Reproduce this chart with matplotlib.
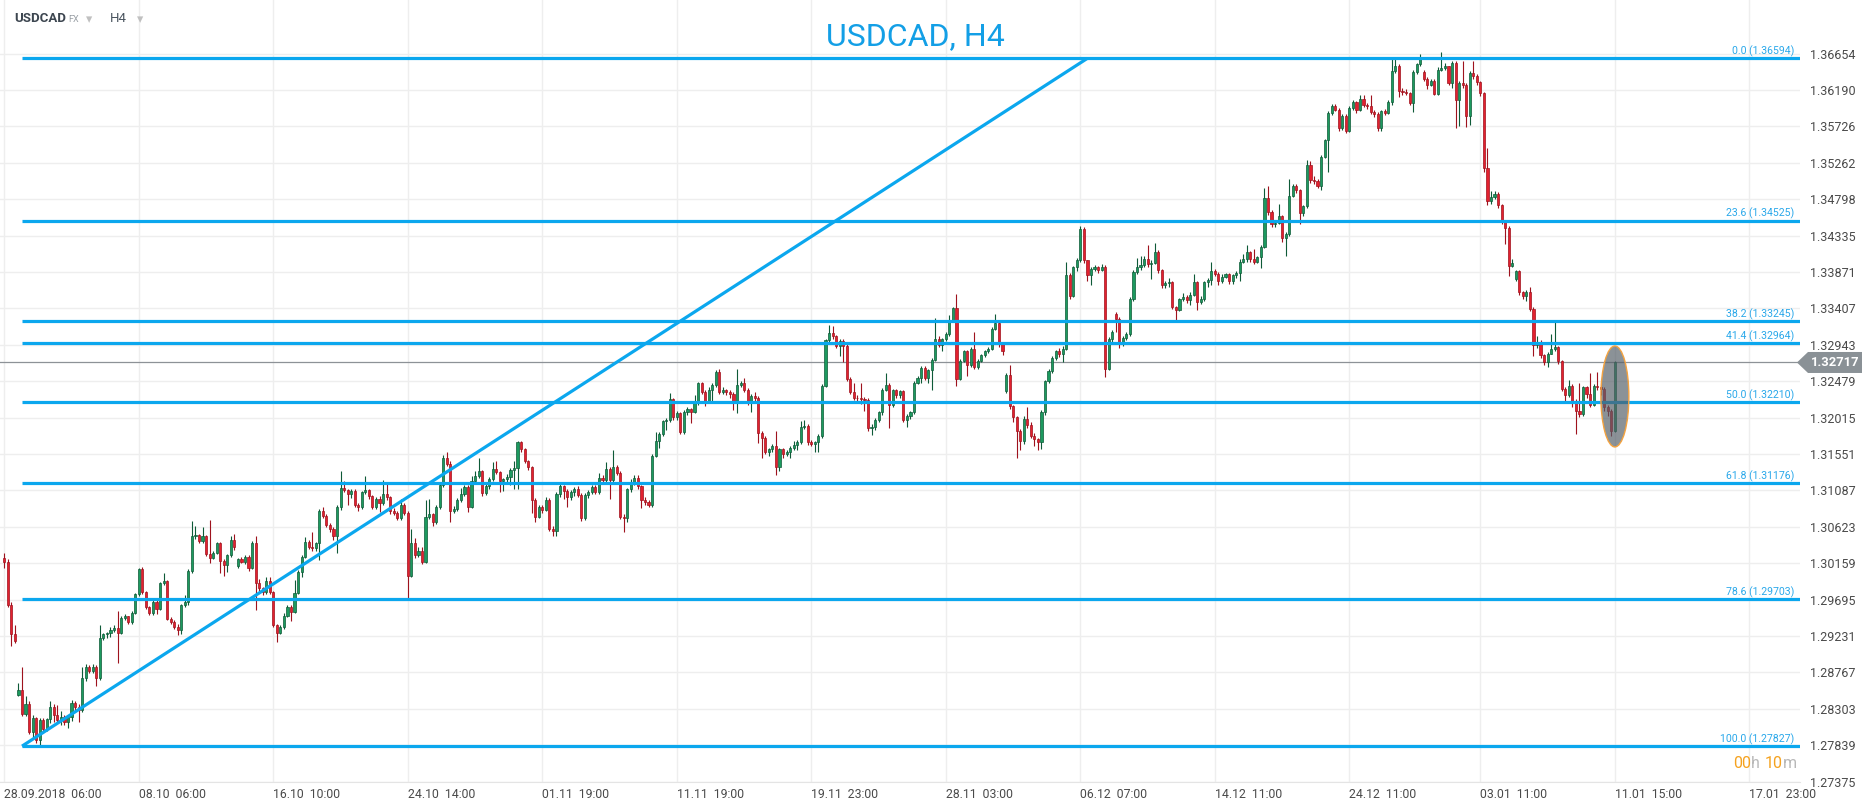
import matplotlib
matplotlib.use("Agg")
import matplotlib.pyplot as plt
from matplotlib.patches import Ellipse, Polygon
from matplotlib.transforms import IdentityTransform, blended_transform_factory, offset_copy
import numpy as np

plt.rcParams['font.family'] = ['Roboto', 'DejaVu Sans']

# USDCAD H4 bars. Open = previous close except where a
# gap is listed in GAP_OPENS (bar index -> open).
FIRST_OPEN = 1.3023
GAP_OPENS = {4: 1.2848, 66: 1.3012, 283: 1.3235, 314: 1.3334, 401: 1.3642, 427: 1.3378}

CLOSES = [
    1.3017, 1.2963, 1.2925, 1.2917, 1.2854, 1.2824, 1.2837, 1.2801, 1.2818, 1.2790,
    1.2816, 1.2804, 1.2817, 1.2832, 1.2822, 1.2816, 1.2820, 1.2814, 1.2820, 1.2838,
    1.2832, 1.2829, 1.2869, 1.2884, 1.2879, 1.2884, 1.2869, 1.2921, 1.2925, 1.2927,
    1.2931, 1.2933, 1.2927, 1.2946, 1.2948, 1.2941, 1.2953, 1.2976, 1.3009, 1.2979,
    1.2960, 1.2952, 1.2967, 1.2958, 1.2990, 1.2993, 1.2945, 1.2941, 1.2935, 1.2931,
    1.2962, 1.2966, 1.3006, 1.3050, 1.3052, 1.3044, 1.3050, 1.3027, 1.3023, 1.3029,
    1.3041, 1.3019, 1.3013, 1.3026, 1.3045, 1.3036, 1.3021, 1.3018, 1.3024, 1.3010,
    1.3042, 1.2991, 1.2984, 1.2979, 1.2993, 1.2979, 1.2937, 1.2927, 1.2935, 1.2949,
    1.2960, 1.2954, 1.2978, 1.3005, 1.3024, 1.3043, 1.3037, 1.3035, 1.3041, 1.3083,
    1.3076, 1.3065, 1.3059, 1.3050, 1.3088, 1.3112, 1.3109, 1.3104, 1.3108, 1.3090,
    1.3087, 1.3106, 1.3109, 1.3101, 1.3087, 1.3098, 1.3092, 1.3104, 1.3100, 1.3083,
    1.3080, 1.3074, 1.3090, 1.3080, 1.3000,
    1.3041, 1.3026, 1.3031, 1.3018, 1.3075, 1.3078, 1.3068, 1.3087, 1.3115, 1.3150,
    1.3142, 1.3083, 1.3085, 1.3096, 1.3104, 1.3113, 1.3088, 1.3121, 1.3127, 1.3133,
    1.3105, 1.3114, 1.3123, 1.3136, 1.3132, 1.3121, 1.3123, 1.3126, 1.3135, 1.3137,
    1.3170, 1.3161, 1.3146, 1.3138, 1.3097, 1.3075, 1.3087, 1.3084, 1.3097, 1.3060,
    1.3057, 1.3104, 1.3114, 1.3108, 1.3100, 1.3106, 1.3110, 1.3103, 1.3073, 1.3103,
    1.3107, 1.3113, 1.3107, 1.3125, 1.3122, 1.3136, 1.3122, 1.3139, 1.3131, 1.3075,
    1.3073, 1.3110, 1.3119, 1.3125, 1.3114, 1.3097, 1.3094, 1.3090, 1.3153, 1.3171,
    1.3180, 1.3197, 1.3199, 1.3225, 1.3202, 1.3207, 1.3183, 1.3209, 1.3212, 1.3209,
    1.3220, 1.3245, 1.3234, 1.3223, 1.3237, 1.3243, 1.3260, 1.3234, 1.3237, 1.3234,
    1.3232, 1.3221, 1.3243, 1.3245, 1.3237, 1.3221, 1.3229, 1.3227, 1.3182, 1.3176,
    1.3158, 1.3161, 1.3165, 1.3138, 1.3161, 1.3155, 1.3158, 1.3163, 1.3167, 1.3170,
    1.3189, 1.3191, 1.3170,
    1.3168, 1.3170, 1.3178, 1.3242, 1.3300, 1.3309, 1.3305, 1.3293, 1.3299, 1.3293,
    1.3251, 1.3234, 1.3227, 1.3226, 1.3225, 1.3224, 1.3188, 1.3190, 1.3199, 1.3208,
    1.3237, 1.3243, 1.3218, 1.3236, 1.3230, 1.3235, 1.3199, 1.3204, 1.3208, 1.3246,
    1.3252, 1.3265, 1.3252, 1.3262, 1.3275, 1.3302, 1.3294, 1.3301, 1.3308, 1.3326,
    1.3341, 1.3251, 1.3274, 1.3286, 1.3268, 1.3289, 1.3266, 1.3274, 1.3281, 1.3286,
    1.3289, 1.3315, 1.3322, 1.3295, 1.3286, 1.3256, 1.3216, 1.3202, 1.3185, 1.3172,
    1.3200, 1.3192, 1.3178, 1.3174, 1.3170, 1.3209, 1.3248, 1.3261, 1.3278, 1.3286,
    1.3282, 1.3289, 1.3383, 1.3356, 1.3393, 1.3402, 1.3442, 1.3402, 1.3383, 1.3391,
    1.3393, 1.3390, 1.3393, 1.3264, 1.3302, 1.3311, 1.3327, 1.3295, 1.3303, 1.3308,
    1.3353, 1.3387, 1.3393, 1.3396, 1.3403, 1.3397, 1.3399, 1.3413, 1.3389, 1.3370,
    1.3373, 1.3374, 1.3343, 1.3339, 1.3352, 1.3355, 1.3351, 1.3358, 1.3374, 1.3349,
    1.3352, 1.3374, 1.3377,
    1.3388, 1.3385, 1.3375, 1.3381, 1.3384, 1.3375, 1.3383, 1.3386, 1.3400, 1.3403,
    1.3412, 1.3403, 1.3400, 1.3406, 1.3419, 1.3481, 1.3463, 1.3448, 1.3450, 1.3458,
    1.3430, 1.3436, 1.3484, 1.3497, 1.3491, 1.3462, 1.3471, 1.3524, 1.3504, 1.3503,
    1.3497, 1.3534, 1.3555, 1.3590, 1.3599, 1.3594, 1.3570, 1.3586, 1.3567, 1.3596,
    1.3604, 1.3593, 1.3607, 1.3600, 1.3598, 1.3591, 1.3589, 1.3571, 1.3592, 1.3590,
    1.3604, 1.3643, 1.3650, 1.3618, 1.3616, 1.3615, 1.3603, 1.3642, 1.3652, 1.3661,
    1.3633, 1.3626, 1.3631, 1.3614, 1.3645, 1.3647, 1.3649, 1.3628, 1.3654, 1.3606,
    1.3628, 1.3626, 1.3586, 1.3641, 1.3637, 1.3629, 1.3615, 1.3519, 1.3477, 1.3482,
    1.3487, 1.3472, 1.3451, 1.3443, 1.3395, 1.3398, 1.3388, 1.3361, 1.3356, 1.3362,
    1.3340, 1.3294, 1.3298, 1.3281, 1.3272, 1.3283, 1.3289, 1.3291, 1.3273, 1.3238,
    1.3230, 1.3242, 1.3223, 1.3210, 1.3206, 1.3240, 1.3232, 1.3218, 1.3242, 1.3240,
    1.3238, 1.3215, 1.3210, 1.3185, 1.32717,
]

HIGHS = [
    1.3029, 1.3021, 1.2966, 1.2937, 1.2863, 1.2883, 1.2846, 1.2840, 1.2823, 1.2820,
    1.2818, 1.2818, 1.2819, 1.2840, 1.2836, 1.2835, 1.2828, 1.2822, 1.2823, 1.2841,
    1.2840, 1.2836, 1.2883, 1.2887, 1.2886, 1.2887, 1.2886, 1.2937, 1.2927, 1.2928,
    1.2934, 1.2937, 1.2955, 1.2948, 1.2951, 1.2949, 1.2955, 1.2978, 1.3010, 1.3011,
    1.2980, 1.2961, 1.2969, 1.2969, 1.2992, 1.3004, 1.2995, 1.2947, 1.2943, 1.2938,
    1.2964, 1.2975, 1.3008, 1.3070, 1.3063, 1.3053, 1.3062, 1.3052, 1.3071, 1.3031,
    1.3043, 1.3043, 1.3021, 1.3028, 1.3050, 1.3053, 1.3023, 1.3024, 1.3026, 1.3026,
    1.3044, 1.3051, 1.2996, 1.2986, 1.2998, 1.2998, 1.2981, 1.2939, 1.2937, 1.2952,
    1.2963, 1.2962, 1.2994, 1.3007, 1.3026, 1.3049, 1.3045, 1.3056, 1.3043, 1.3085,
    1.3088, 1.3078, 1.3067, 1.3062, 1.3090, 1.3133, 1.3121, 1.3111, 1.3111, 1.3110,
    1.3092, 1.3108, 1.3127, 1.3111, 1.3103, 1.3100, 1.3101, 1.3122, 1.3120, 1.3102,
    1.3086, 1.3082, 1.3098, 1.3092, 1.3082,
    1.3059, 1.3048, 1.3037, 1.3036, 1.3096, 1.3098, 1.3080, 1.3090, 1.3117, 1.3154,
    1.3158, 1.3146, 1.3089, 1.3099, 1.3112, 1.3116, 1.3115, 1.3127, 1.3133, 1.3150,
    1.3135, 1.3117, 1.3126, 1.3145, 1.3146, 1.3134, 1.3125, 1.3129, 1.3137, 1.3146,
    1.3172, 1.3172, 1.3163, 1.3148, 1.3140, 1.3099, 1.3090, 1.3090, 1.3100, 1.3099,
    1.3063, 1.3107, 1.3117, 1.3116, 1.3110, 1.3109, 1.3113, 1.3114, 1.3105, 1.3105,
    1.3109, 1.3116, 1.3115, 1.3131, 1.3128, 1.3145, 1.3139, 1.3160, 1.3141, 1.3133,
    1.3078, 1.3112, 1.3123, 1.3128, 1.3128, 1.3116, 1.3100, 1.3097, 1.3155, 1.3183,
    1.3183, 1.3199, 1.3201, 1.3233, 1.3226, 1.3210, 1.3209, 1.3211, 1.3215, 1.3214,
    1.3230, 1.3247, 1.3247, 1.3236, 1.3240, 1.3246, 1.3262, 1.3264, 1.3240, 1.3238,
    1.3237, 1.3234, 1.3264, 1.3248, 1.3252, 1.3239, 1.3231, 1.3234, 1.3229, 1.3184,
    1.3178, 1.3163, 1.3168, 1.3184, 1.3163, 1.3163, 1.3160, 1.3165, 1.3172, 1.3173,
    1.3197, 1.3198, 1.3193,
    1.3173, 1.3172, 1.3180, 1.3244, 1.3302, 1.3319, 1.3318, 1.3307, 1.3301, 1.3301,
    1.3295, 1.3253, 1.3245, 1.3230, 1.3245, 1.3228, 1.3226, 1.3193, 1.3201, 1.3210,
    1.3239, 1.3258, 1.3245, 1.3238, 1.3238, 1.3237, 1.3237, 1.3206, 1.3210, 1.3248,
    1.3254, 1.3267, 1.3267, 1.3264, 1.3277, 1.3328, 1.3305, 1.3303, 1.3310, 1.3332,
    1.3343, 1.3359, 1.3276, 1.3288, 1.3288, 1.3291, 1.3311, 1.3276, 1.3283, 1.3288,
    1.3291, 1.3317, 1.3333, 1.3324, 1.3297, 1.3258, 1.3268, 1.3218, 1.3204, 1.3187,
    1.3203, 1.3215, 1.3196, 1.3182, 1.3176, 1.3211, 1.3250, 1.3263, 1.3280, 1.3288,
    1.3290, 1.3293, 1.3400, 1.3386, 1.3395, 1.3405, 1.3446, 1.3444, 1.3402, 1.3393,
    1.3396, 1.3395, 1.3397, 1.3396, 1.3304, 1.3313, 1.3336, 1.3330, 1.3305, 1.3310,
    1.3355, 1.3389, 1.3405, 1.3407, 1.3408, 1.3422, 1.3402, 1.3424, 1.3415, 1.3391,
    1.3376, 1.3380, 1.3375, 1.3344, 1.3354, 1.3360, 1.3358, 1.3362, 1.3384, 1.3376,
    1.3356, 1.3376, 1.3380,
    1.3400, 1.3391, 1.3387, 1.3384, 1.3386, 1.3386, 1.3385, 1.3388, 1.3403, 1.3410,
    1.3421, 1.3414, 1.3416, 1.3408, 1.3421, 1.3494, 1.3497, 1.3466, 1.3452, 1.3474,
    1.3460, 1.3438, 1.3506, 1.3499, 1.3499, 1.3493, 1.3473, 1.3530, 1.3529, 1.3510,
    1.3505, 1.3536, 1.3557, 1.3592, 1.3601, 1.3601, 1.3596, 1.3588, 1.3588, 1.3598,
    1.3606, 1.3605, 1.3613, 1.3612, 1.3603, 1.3613, 1.3594, 1.3591, 1.3594, 1.3595,
    1.3606, 1.3658, 1.3660, 1.3652, 1.3621, 1.3620, 1.3617, 1.3644, 1.3654, 1.3665,
    1.3645, 1.3636, 1.3633, 1.3633, 1.3648, 1.3667, 1.3654, 1.3650, 1.3656, 1.3656,
    1.3630, 1.3656, 1.3628, 1.3643, 1.3656, 1.3639, 1.3631, 1.3617, 1.3545, 1.3490,
    1.3490, 1.3489, 1.3474, 1.3453, 1.3446, 1.3404, 1.3390, 1.3390, 1.3363, 1.3364,
    1.3368, 1.3342, 1.3306, 1.3300, 1.3283, 1.3285, 1.3308, 1.3323, 1.3293, 1.3275,
    1.3240, 1.3249, 1.3244, 1.3225, 1.3246, 1.3242, 1.3242, 1.3258, 1.3244, 1.3259,
    1.3245, 1.3240, 1.3218, 1.3212, 1.3274,
]

LOWS = [
    1.3010, 1.2960, 1.2910, 1.2914, 1.2846, 1.2821, 1.2821, 1.2798, 1.2792, 1.2787,
    1.2783, 1.2800, 1.2802, 1.2812, 1.2813, 1.2812, 1.2810, 1.2810, 1.2806, 1.2815,
    1.2826, 1.2814, 1.2826, 1.2866, 1.2876, 1.2876, 1.2859, 1.2867, 1.2918, 1.2920,
    1.2922, 1.2928, 1.2889, 1.2925, 1.2944, 1.2939, 1.2939, 1.2951, 1.2974, 1.2977,
    1.2957, 1.2950, 1.2950, 1.2951, 1.2956, 1.2988, 1.2943, 1.2938, 1.2932, 1.2924,
    1.2925, 1.2960, 1.2962, 1.3004, 1.3047, 1.3042, 1.3041, 1.3025, 1.3016, 1.3021,
    1.3027, 1.3004, 1.2999, 1.3005, 1.3024, 1.3033, 1.3010, 1.3016, 1.3015, 1.3006,
    1.3008, 1.2956, 1.2981, 1.2975, 1.2977, 1.2976, 1.2934, 1.2916, 1.2925, 1.2932,
    1.2947, 1.2942, 1.2952, 1.2976, 1.2998, 1.3022, 1.3034, 1.3031, 1.3032, 1.3020,
    1.3073, 1.3062, 1.3056, 1.3046, 1.3029, 1.3084, 1.3106, 1.3090, 1.3099, 1.3087,
    1.3082, 1.3085, 1.3104, 1.3098, 1.3085, 1.3085, 1.3081, 1.3090, 1.3097, 1.3079,
    1.3077, 1.3071, 1.3071, 1.3077, 1.2972,
    1.2998, 1.3023, 1.3024, 1.3015, 1.3016, 1.3072, 1.3063, 1.3066, 1.3085, 1.3113,
    1.3140, 1.3069, 1.3080, 1.3083, 1.3094, 1.3102, 1.3081, 1.3086, 1.3119, 1.3125,
    1.3101, 1.3103, 1.3111, 1.3121, 1.3129, 1.3106, 1.3108, 1.3119, 1.3116, 1.3110,
    1.3110, 1.3158, 1.3143, 1.3135, 1.3080, 1.3069, 1.3073, 1.3080, 1.3082, 1.3057,
    1.3050, 1.3050, 1.3100, 1.3098, 1.3088, 1.3096, 1.3101, 1.3100, 1.3070, 1.3071,
    1.3099, 1.3104, 1.3104, 1.3104, 1.3119, 1.3117, 1.3098, 1.3119, 1.3128, 1.3072,
    1.3056, 1.3068, 1.3107, 1.3115, 1.3111, 1.3086, 1.3090, 1.3087, 1.3088, 1.3151,
    1.3163, 1.3178, 1.3186, 1.3196, 1.3199, 1.3199, 1.3181, 1.3181, 1.3205, 1.3195,
    1.3207, 1.3218, 1.3231, 1.3216, 1.3220, 1.3223, 1.3240, 1.3231, 1.3231, 1.3230,
    1.3226, 1.3211, 1.3207, 1.3240, 1.3234, 1.3218, 1.3208, 1.3221, 1.3169, 1.3150,
    1.3155, 1.3153, 1.3158, 1.3128, 1.3134, 1.3150, 1.3153, 1.3150, 1.3160, 1.3160,
    1.3168, 1.3187, 1.3167,
    1.3165, 1.3157, 1.3157, 1.3176, 1.3240, 1.3298, 1.3302, 1.3290, 1.3280, 1.3272,
    1.3248, 1.3231, 1.3224, 1.3222, 1.3219, 1.3210, 1.3185, 1.3179, 1.3186, 1.3196,
    1.3205, 1.3235, 1.3188, 1.3215, 1.3226, 1.3227, 1.3196, 1.3190, 1.3200, 1.3206,
    1.3244, 1.3246, 1.3249, 1.3245, 1.3237, 1.3273, 1.3291, 1.3286, 1.3299, 1.3306,
    1.3324, 1.3242, 1.3249, 1.3272, 1.3255, 1.3266, 1.3263, 1.3264, 1.3272, 1.3279,
    1.3284, 1.3287, 1.3313, 1.3292, 1.3281, 1.3233, 1.3213, 1.3196, 1.3150, 1.3160,
    1.3168, 1.3188, 1.3175, 1.3165, 1.3160, 1.3162, 1.3205, 1.3245, 1.3258, 1.3275,
    1.3279, 1.3272, 1.3287, 1.3352, 1.3355, 1.3388, 1.3400, 1.3398, 1.3375, 1.3370,
    1.3388, 1.3386, 1.3388, 1.3253, 1.3262, 1.3298, 1.3310, 1.3290, 1.3293, 1.3300,
    1.3306, 1.3350, 1.3385, 1.3390, 1.3394, 1.3394, 1.3378, 1.3397, 1.3386, 1.3366,
    1.3366, 1.3368, 1.3340, 1.3323, 1.3337, 1.3350, 1.3347, 1.3345, 1.3356, 1.3339,
    1.3346, 1.3350, 1.3368,
    1.3370, 1.3382, 1.3370, 1.3373, 1.3379, 1.3372, 1.3372, 1.3380, 1.3375, 1.3398,
    1.3400, 1.3400, 1.3397, 1.3398, 1.3392, 1.3417, 1.3460, 1.3445, 1.3444, 1.3448,
    1.3425, 1.3408, 1.3433, 1.3482, 1.3488, 1.3448, 1.3458, 1.3469, 1.3500, 1.3499,
    1.3494, 1.3492, 1.3532, 1.3514, 1.3587, 1.3592, 1.3567, 1.3568, 1.3564, 1.3565,
    1.3594, 1.3590, 1.3592, 1.3597, 1.3595, 1.3588, 1.3585, 1.3567, 1.3567, 1.3587,
    1.3588, 1.3600, 1.3641, 1.3610, 1.3613, 1.3612, 1.3600, 1.3591, 1.3640, 1.3650,
    1.3630, 1.3620, 1.3624, 1.3612, 1.3612, 1.3643, 1.3644, 1.3625, 1.3621, 1.3570,
    1.3573, 1.3622, 1.3572, 1.3574, 1.3633, 1.3626, 1.3611, 1.3515, 1.3473, 1.3474,
    1.3480, 1.3468, 1.3448, 1.3423, 1.3382, 1.3393, 1.3376, 1.3358, 1.3352, 1.3350,
    1.3337, 1.3280, 1.3290, 1.3278, 1.3268, 1.3266, 1.3282, 1.3286, 1.3270, 1.3235,
    1.3222, 1.3228, 1.3215, 1.3181, 1.3202, 1.3204, 1.3226, 1.3215, 1.3216, 1.3236,
    1.3230, 1.3210, 1.3204, 1.3178, 1.3183,
]

# x axis: bar index of each time label
TICK_IDX = [0, 38, 76, 114, 152, 190, 228, 266, 304, 342, 380, 417, 455, 493]
TICK_LABELS = ['28.09.2018  06:00', '08.10  06:00', '16.10  10:00', '24.10  14:00',
               '01.11  19:00', '11.11  19:00', '19.11  23:00', '28.11  03:00',
               '06.12  07:00', '14.12  11:00', '24.12  11:00', '03.01  11:00',
               '11.01  15:00', '17.01  23:00']

PRICE_TICKS = [1.27375, 1.27839, 1.28303, 1.28767, 1.29231, 1.29695, 1.30159,
               1.30623, 1.31087, 1.31551, 1.32015, 1.32479, 1.32943, 1.33407,
               1.33871, 1.34335, 1.34798, 1.35262, 1.35726, 1.36190, 1.36654]

# Fibonacci retracement drawn from the Oct low to the Jan high
FIB_RATIOS = ['0.0', '23.6', '38.2', '41.4', '50.0', '61.8', '78.6', '100.0']
FIB_PRICES = [1.36594, 1.34525, 1.33245, 1.32964, 1.32210, 1.31176, 1.29703, 1.27827]
FIB_START_IDX = 5
TREND_END_IDX = 306

LAST_PRICE = 1.32717
ELLIPSE_PRICE = 1.32284

GREEN, GREEN_EDGE = '#1c9a5f', '#0e5a37'
RED, RED_EDGE = '#e2212f', '#9e121d'
BLUE = '#0ba7ee'

W, H = 1866, 806
fig = plt.figure(figsize=(W / 100, H / 100), dpi=100)
ax = fig.add_axes([0, 24 / H, 1800 / W, 782 / H])
ax.set_xlim(-1.215, 507.3)
ax.set_ylim(1.27370, 1.37337)

# --- candles
closes = np.array(CLOSES)
opens = np.concatenate([[FIRST_OPEN], closes[:-1]])
for k, v in GAP_OPENS.items():
    opens[k] = v
highs = np.maximum(np.array(HIGHS), np.maximum(opens, closes))
lows = np.minimum(np.array(LOWS), np.minimum(opens, closes))
idx = np.arange(len(closes))
up = closes >= opens
body_lo = np.minimum(opens, closes)
body_h = np.maximum(np.abs(closes - opens), 0.00008)

for mask, face, edge in [(up, GREEN, GREEN_EDGE), (~up, RED, RED_EDGE)]:
    ax.vlines(idx[mask], lows[mask], highs[mask], color=edge, lw=0.8, zorder=3)
    ax.bar(idx[mask], body_h[mask], bottom=body_lo[mask], width=0.6,
           color=face, edgecolor=edge, linewidth=0.5, zorder=4)

# --- grid / axes
ax.set_xticks(TICK_IDX)
ax.set_xticklabels(TICK_LABELS, ha='left')
ax.set_yticks(PRICE_TICKS)
ax.set_yticklabels([f'{p:.5f}' for p in PRICE_TICKS])
ax.yaxis.tick_right()
ax.tick_params(axis='y', length=0, pad=7, labelsize=9, labelcolor='#4a4a4a')
ax.tick_params(axis='x', length=0, pad=4, labelsize=8.8, labelcolor='#4a4a4a')
ax.grid(True, color='#eeeeee', lw=1.0)
ax.set_axisbelow(True)
for side in ['top', 'right', 'left']:
    ax.spines[side].set_visible(False)
ax.spines['bottom'].set_color('#e4e4e4')

# --- current price line
ax.axhline(LAST_PRICE, color='#8d9297', lw=0.9, zorder=2)

# --- fibonacci levels and trend line
xmax = ax.get_xlim()[1]
ax.hlines(FIB_PRICES, FIB_START_IDX, xmax, color=BLUE, lw=2.3, zorder=5)
ax.plot([FIB_START_IDX, TREND_END_IDX], [FIB_PRICES[-1], FIB_PRICES[0]],
        color=BLUE, lw=2.3, zorder=5, solid_capstyle='butt')
lab_tr = offset_copy(blended_transform_factory(ax.transAxes, ax.transData),
                     fig=fig, x=0, y=4, units='dots')
for ratio, price in zip(FIB_RATIOS, FIB_PRICES):
    ax.text(1794 / 1800, price, f'{ratio} ({price:.5f})', transform=lab_tr,
            ha='right', va='baseline', fontsize=7.6, color='#2aa8ea', zorder=6)

# --- highlight ellipse on the last bar
ax.add_patch(Ellipse((idx[-1], ELLIPSE_PRICE), width=7.9, height=0.01287,
                     facecolor=(0.33, 0.37, 0.40, 0.68), edgecolor='#f4a340',
                     lw=1.0, zorder=6))

# --- price tag on the right axis
y_px = ax.transData.transform((0, LAST_PRICE))[1]
tag = Polygon([(1797, y_px), (1808, y_px + 10.5), (1862, y_px + 10.5),
               (1862, y_px - 10.5), (1808, y_px - 10.5)], closed=True,
              transform=IdentityTransform(), facecolor='#8a9196', edgecolor='none')
fig.add_artist(tag)
fig.text(1835 / W, y_px / H, f'{LAST_PRICE:.5f}', ha='center', va='center',
         fontsize=9.4, fontweight='bold', color='white')

# --- header and title
fig.text(14 / W, 1 - 19 / H, 'USDCAD', ha='left', va='center', fontsize=9.5,
         fontweight='bold', color='#3d4650')
fig.text(68 / W, 1 - 19 / H, 'FX', ha='left', va='center', fontsize=6.5, color='#9aa0a6')
fig.text(86 / W, 1 - 20 / H, '\u25BE', ha='left', va='center', fontsize=9, color='#c0c0c0',
         family='DejaVu Sans')
fig.text(110 / W, 1 - 19 / H, 'H4', ha='left', va='center', fontsize=9.5, color='#4b5560')
fig.text(137 / W, 1 - 20 / H, '\u25BE', ha='left', va='center', fontsize=9, color='#c0c0c0',
         family='DejaVu Sans')
fig.text(915 / W, 1 - 37 / H, 'USDCAD, H4', ha='center', va='center', fontsize=23,
         color='#139fe6')

# --- bar countdown
cy = 1 - 763 / H
fig.text(1733 / W, cy, '00', ha='left', va='center', fontsize=11.5, color='#f5a21f')
fig.text(1751 / W, cy, 'h', ha='left', va='center', fontsize=11.5, color='#b8b8b8')
fig.text(1765 / W, cy, '10', ha='left', va='center', fontsize=11.5, color='#f5a21f')
fig.text(1783 / W, cy, 'm', ha='left', va='center', fontsize=11.5, color='#b8b8b8')

fig.savefig('out.png', dpi=100, facecolor='white')
